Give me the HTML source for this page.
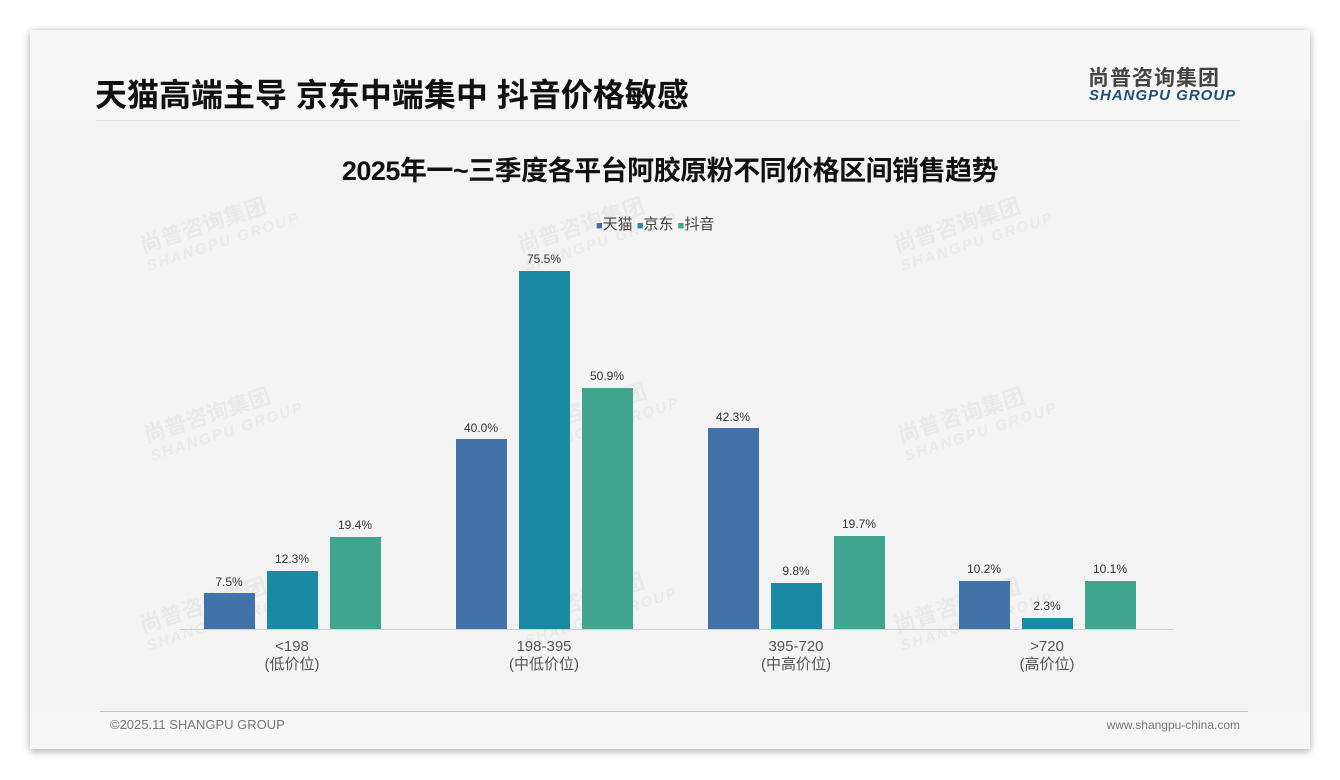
<!DOCTYPE html><html><head><meta charset="utf-8"><style>
body{margin:0;width:1340px;height:780px;background:#fff;position:relative;overflow:hidden;font-family:"Liberation Sans","Noto Sans CJK SC",sans-serif}
.a{position:absolute}
.card{left:30px;top:30px;width:1280px;height:719px;background:#f3f3f3;box-shadow:0 2px 8px rgba(0,0,0,.35)}
.bar{position:absolute;width:51px}
.t{background:#4372a8}.j{background:#1a89a3}.d{background:#40a58f}
.v{position:absolute;width:80px;text-align:center;font-size:12px;color:#333}
.lab{position:absolute;width:160px;text-align:center;font-size:15px;color:#555;line-height:18px}
.wm{position:absolute;color:rgba(0,0,0,0.04);font-weight:bold;transform:rotate(-18deg);font-size:22px;line-height:22px;white-space:nowrap}
.wm span{display:block;font-size:15px;letter-spacing:2px;font-style:italic}
</style></head><body>
<div class="a card"></div>
<div class="a" style="left:30px;top:30px;width:1280px;height:90px;background:#f6f6f6"></div>
<div class="a" style="left:95px;top:74px;font-size:32px;font-weight:bold;color:#111;line-height:42px">天猫高端主导 京东中端集中 抖音价格敏感</div>
<div class="a" style="left:96px;top:120px;width:1144px;height:1px;background:#ddd"></div>
<div class="a" style="left:1088px;top:62px;font-size:21px;font-weight:bold;color:#444;letter-spacing:1px">尚普咨询集团</div>
<div class="a" style="left:1089px;top:87px;font-size:15px;font-weight:bold;font-style:italic;color:#1f4f7a;letter-spacing:1px">SHANGPU GROUP</div>
<div class="a" style="left:0;width:1340px;top:149px;text-align:center;font-size:27px;font-weight:bold;color:#111;letter-spacing:-0.5px">2025年一~三季度各平台阿胶原粉不同价格区间销售趋势</div>
<div class="a" style="left:596px;top:213px;font-size:15px;color:#444"><span style="color:#4372a8;font-size:11px">■</span>天猫 <span style="color:#1a89a3;font-size:11px">■</span>京东 <span style="color:#40a58f;font-size:11px">■</span>抖音</div>
<div class="wm" style="left:140px;top:210px">尚普咨询集团<span>SHANGPU GROUP</span></div>
<div class="wm" style="left:518px;top:210px">尚普咨询集团<span>SHANGPU GROUP</span></div>
<div class="wm" style="left:894px;top:210px">尚普咨询集团<span>SHANGPU GROUP</span></div>
<div class="wm" style="left:144px;top:400px">尚普咨询集团<span>SHANGPU GROUP</span></div>
<div class="wm" style="left:520px;top:395px">尚普咨询集团<span>SHANGPU GROUP</span></div>
<div class="wm" style="left:898px;top:400px">尚普咨询集团<span>SHANGPU GROUP</span></div>
<div class="wm" style="left:140px;top:590px">尚普咨询集团<span>SHANGPU GROUP</span></div>
<div class="wm" style="left:518px;top:585px">尚普咨询集团<span>SHANGPU GROUP</span></div>
<div class="wm" style="left:894px;top:590px">尚普咨询集团<span>SHANGPU GROUP</span></div>
<div class="a" style="left:180px;top:629px;width:993px;height:1px;background:#d0d0d0"></div>

<div class="bar t" style="left:204px;top:593px;height:36px"></div><div class="v" style="left:189px;top:575px">7.5%</div>
<div class="bar j" style="left:267px;top:571px;height:58px"></div><div class="v" style="left:252px;top:552px">12.3%</div>
<div class="bar d" style="left:330px;top:537px;height:92px"></div><div class="v" style="left:315px;top:518px">19.4%</div>

<div class="bar t" style="left:456px;top:439px;height:190px"></div><div class="v" style="left:441px;top:421px">40.0%</div>
<div class="bar j" style="left:519px;top:271px;height:358px"></div><div class="v" style="left:504px;top:252px">75.5%</div>
<div class="bar d" style="left:582px;top:388px;height:241px"></div><div class="v" style="left:567px;top:369px">50.9%</div>

<div class="bar t" style="left:708px;top:428px;height:201px"></div><div class="v" style="left:693px;top:410px">42.3%</div>
<div class="bar j" style="left:771px;top:583px;height:46px"></div><div class="v" style="left:756px;top:564px">9.8%</div>
<div class="bar d" style="left:834px;top:536px;height:93px"></div><div class="v" style="left:819px;top:517px">19.7%</div>

<div class="bar t" style="left:959px;top:581px;height:48px"></div><div class="v" style="left:944px;top:562px">10.2%</div>
<div class="bar j" style="left:1022px;top:618px;height:11px"></div><div class="v" style="left:1007px;top:599px">2.3%</div>
<div class="bar d" style="left:1085px;top:581px;height:48px"></div><div class="v" style="left:1070px;top:562px">10.1%</div>

<div class="lab" style="left:212px;top:638px">&lt;198<br>(低价位)</div>
<div class="lab" style="left:464px;top:638px">198-395<br>(中低价位)</div>
<div class="lab" style="left:716px;top:638px">395-720<br>(中高价位)</div>
<div class="lab" style="left:967px;top:638px">&gt;720<br>(高价位)</div>

<div class="a" style="left:30px;top:712px;width:1280px;height:37px;background:#f6f6f6"></div>
<div class="a" style="left:100px;top:711px;width:1148px;height:1px;background:#b8c8d8"></div>
<div class="a" style="left:110px;top:717px;font-size:13px;color:#777">©2025.11 SHANGPU GROUP</div>
<div class="a" style="right:100px;top:718px;font-size:12px;color:#777">www.shangpu-china.com</div>
</body></html>
